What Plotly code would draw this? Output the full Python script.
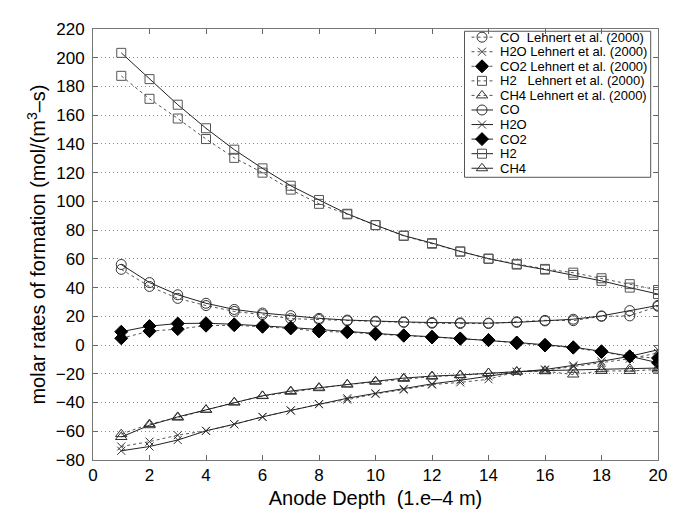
import plotly.graph_objects as go

depth = list(range(1, 21))

co_model = [56.1, 43.5, 35.0, 29.1, 24.8, 22.3, 20.5, 18.6, 17.4, 16.6, 16.1, 15.7, 15.5, 15.3, 15.8, 16.8, 18.0, 20.3, 24.0, 27.6]
co_lehnert = [52.7, 40.8, 32.5, 27.5, 23.4, 21.2, 18.4, 17.8, 16.9, 16.2, 15.8, 15.2, 15.0, 15.0, 16.2, 17.2, 17.0, 20.0, 20.3, 27.0]
h2o_model = [-73.6, -70.6, -66.1, -59.7, -55.1, -50.0, -45.5, -41.0, -37.0, -33.6, -30.5, -27.0, -24.5, -21.8, -18.8, -17.0, -14.2, -11.3, -7.8, -3.3]
h2o_lehnert = [-70.6, -67.2, -62.7, -59.7, -55.1, -50.0, -45.5, -41.2, -38.0, -34.0, -31.0, -27.5, -26.0, -23.8, -18.5, -17.5, -15.0, -12.5, -9.5, -5.5]
co2_model = [9.3, 13.2, 15.0, 15.2, 14.5, 13.5, 12.2, 10.8, 9.3, 8.0, 6.8, 5.8, 4.6, 3.5, 1.8, 0.2, -1.5, -4.3, -7.8, -12.3]
co2_lehnert = [4.7, 9.7, 11.1, 13.5, 13.8, 12.7, 11.6, 9.5, 9.0, 7.6, 6.5, 5.3, 4.4, 3.4, 1.3, -0.3, -1.8, -4.8, -8.0, -9.0]
h2_model = [203.4, 185.1, 167.3, 150.9, 136.0, 123.0, 110.9, 101.0, 91.4, 83.5, 76.2, 71.0, 65.2, 60.2, 56.0, 52.5, 48.8, 44.7, 40.0, 35.5]
h2_lehnert = [187.4, 171.4, 157.7, 143.4, 130.3, 120.0, 108.2, 98.3, 91.0, 83.5, 76.0, 70.5, 65.0, 60.0, 56.5, 53.0, 50.4, 46.5, 42.4, 38.3]
ch4_model = [-64.0, -55.8, -50.0, -45.0, -39.8, -35.3, -32.0, -29.6, -27.3, -25.2, -23.0, -21.6, -20.8, -19.5, -18.5, -17.8, -17.2, -16.8, -16.4, -16.0]
ch4_lehnert = [-62.0, -55.0, -50.5, -45.0, -40.0, -35.5, -32.5, -30.0, -27.5, -25.5, -23.5, -22.0, -21.0, -19.5, -18.5, -18.2, -20.5, -18.0, -18.0, -17.0]

species = ["CO", "H2O", "CO2", "H2", "CH4"]
lehnert_names = ["CO\u00a0\u00a0Lehnert et al. (2000)", "H2O Lehnert et al. (2000)",
                 "CO2 Lehnert et al. (2000)", "H2\u00a0\u00a0\u00a0Lehnert et al. (2000)",
                 "CH4 Lehnert et al. (2000)"]
model_vals = [co_model, h2o_model, co2_model, h2_model, ch4_model]
lehnert_vals = [co_lehnert, h2o_lehnert, co2_lehnert, h2_lehnert, ch4_lehnert]

symbols = ["circle-open", "x-thin-open", "diamond", "square-open", "triangle-up-open"]
sizes = [10, 8, 10, 9, 10]
mcolors = ["#333333", "#333333", "#000000", "#555555", "#333333"]

lehnert_line = dict(color="#555555", width=1, dash="dot")
model_line = dict(color="#222222", width=1)

fig = go.Figure()
entries = []
for name, vals, sym, sz, mc in zip(lehnert_names, lehnert_vals, symbols, sizes, mcolors):
    fig.add_trace(go.Scatter(
        x=depth, y=vals, name=name, mode="lines+markers", line=lehnert_line,
        marker=dict(symbol=sym, size=sz, color=mc, line=dict(color=mc, width=1)),
    ))
    entries.append((name, sym, sz, mc, lehnert_line))
for name, vals, sym, sz, mc in zip(species, model_vals, symbols, sizes, mcolors):
    fig.add_trace(go.Scatter(
        x=depth, y=vals, name=name, mode="lines+markers", line=model_line,
        marker=dict(symbol=sym, size=sz, color=mc, line=dict(color=mc, width=1)),
    ))
    entries.append((name, sym, sz, mc, model_line))

# ---- legend drawn in paper space (overlay axes with range 0..1) ----
L, R, T, B = 85, 26, 14, 61
W, H = 676, 513
pw, ph = W - L - R, H - T - B
def px(xp):
    return (xp - L) / pw
def py(yp):
    return (H - B - yp) / ph

box_x0, box_x1 = px(456.5), px(642.7)
box_y0, box_y1 = py(164.7), py(16.3)
fig.add_trace(go.Scatter(
    x=[box_x0, box_x1, box_x1, box_x0, box_x0],
    y=[box_y0, box_y0, box_y1, box_y1, box_y0],
    mode="lines", fill="toself", fillcolor="white",
    line=dict(color="#555555", width=1),
    xaxis="x2", yaxis="y2", hoverinfo="skip", showlegend=False,
))
row0, row_h = 22.3, 14.8
sx0, sxm, sx1 = px(463.5), px(474.0), px(485.0)
tx = px(490.0)
annotations = []
for i, (name, sym, sz, mc, ln) in enumerate(entries):
    yy = py(row0 + row_h * i)
    fig.add_trace(go.Scatter(
        x=[sx0, sxm, sx1], y=[yy, yy, yy], mode="lines+markers", line=ln,
        marker=dict(symbol=sym, size=sz, color=mc, line=dict(color=mc, width=1),
                    opacity=[0, 1, 0]),
        xaxis="x2", yaxis="y2", hoverinfo="skip", showlegend=False,
    ))
    annotations.append(dict(
        x=tx, y=yy, xref="paper", yref="paper", text=name, showarrow=False,
        xanchor="left", yanchor="middle", font=dict(size=13, color="black"),
    ))

font_family = "Liberation Sans, Arial, Helvetica, sans-serif"
fig.update_layout(
    width=W, height=H,
    margin=dict(l=L, r=R, t=T, b=B),
    paper_bgcolor="white", plot_bgcolor="white",
    font=dict(family=font_family, color="black", size=17),
    showlegend=False,
    annotations=annotations,
    xaxis=dict(
        range=[0, 20], dtick=2, tick0=0,
        showgrid=False, zeroline=False,
        ticks="inside", ticklen=5, tickcolor="#666666",
        showline=True, linecolor="#777777", linewidth=1, mirror="ticks",
        tickfont=dict(size=17),
        title=dict(text="Anode Depth\u00a0\u00a0(1.e\u20134 m)", font=dict(size=20), standoff=6),
    ),
    yaxis=dict(
        range=[-80, 220], dtick=20, tick0=0,
        showgrid=True, gridcolor="#888888", griddash="1px,3px", gridwidth=1,
        zeroline=False,
        ticks="inside", ticklen=5, tickcolor="#666666",
        showline=True, linecolor="#777777", linewidth=1, mirror="ticks",
        tickfont=dict(size=17), ticklabelstandoff=4,
        title=dict(text="molar rates of formation (mol/(m<sup>3</sup>\u2013s)", font=dict(size=20), standoff=4),
    ),
    xaxis2=dict(overlaying="x", anchor="y2", range=[0, 1], visible=False, fixedrange=True),
    yaxis2=dict(overlaying="y", anchor="x2", range=[0, 1], visible=False, fixedrange=True),
)

fig.write_html("out.html")
